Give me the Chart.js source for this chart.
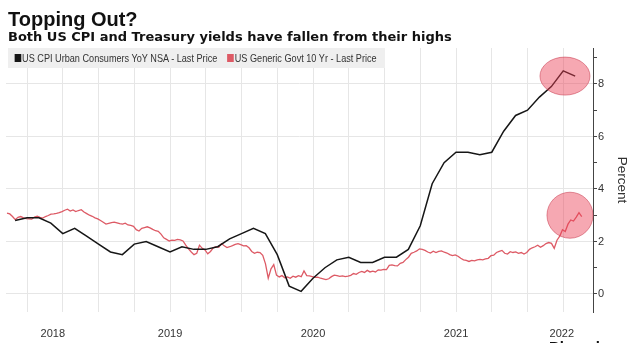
<!DOCTYPE html>
<html>
<head>
<meta charset="utf-8">
<script src="https://cdn.jsdelivr.net/npm/chart.js@4.4.1/dist/chart.umd.min.js"></script>
<style>
  html, body { margin: 0; padding: 0; background: #fff; }
  #wrap { position: relative; width: 634px; height: 343px; overflow: hidden; }
  #chart { position: absolute; left: 0; top: 0; }
  .title { position: absolute; left: 8px; top: 10px; font: bold 20px "Liberation Sans", Arial, sans-serif; line-height: 19px; color: #111; white-space: nowrap; }
  .subtitle { position: absolute; left: 8px; top: 30px; font: bold 13px "DejaVu Sans", Verdana, sans-serif; line-height: 13px; color: #111; white-space: nowrap; }
  .legend { position: absolute; left: 8px; top: 48px; width: 377px; height: 20px; background: #efefef; }
  .legend .inner { position: absolute; left: 0; top: 0; height: 20px; display: flex; align-items: center; transform: scaleX(0.83); transform-origin: 0 0; font: 11px "Liberation Sans", Arial, sans-serif; color: #333; white-space: nowrap; }
  .legend .sw { display: inline-block; width: 8px; height: 8px; margin: 0 1px 0 8px; }
  .legend .item { display: flex; align-items: center; margin-right: 4px; }
  .brand { position: absolute; left: 549px; top: 338px; font: bold 15px "Liberation Sans", Arial, sans-serif; color: #111; }
</style>
</head>
<body>
<div id="wrap">
  <canvas id="chart" width="634" height="343"></canvas>
  <div class="title">Topping Out?</div>
  <div class="subtitle">Both US CPI and Treasury yields have fallen from their highs</div>
  <div class="legend"><div class="inner" id="legend"></div></div>
  <div class="brand">Bloomberg</div>
</div>
<script>
// series names
const seriesNames = ['US CPI Urban Consumers YoY NSA - Last Price', 'US Generic Govt 10 Yr - Last Price'];

// CPI YoY, monthly, May 2018 .. Apr 2022 (plotted at month end)
const cpiStartYear = 2018;
const cpiStartMonth = 5;
const cpiValues = [
  2.8, 2.9, 2.9, 2.7, 2.3, 2.5, 2.2, 1.9,
  1.6, 1.5, 1.9, 2.0, 1.8, 1.6, 1.8, 1.7, 1.7, 1.8, 2.1, 2.3,
  2.5, 2.3, 1.5, 0.3, 0.1, 0.6, 1.0, 1.3, 1.4, 1.2, 1.2, 1.4,
  1.4, 1.7, 2.6, 4.2, 5.0, 5.4, 5.4, 5.3, 5.4, 6.2, 6.8, 7.0,
  7.5, 7.9, 8.5, 8.3
];

// 10Y yield, weekly from mid May 2018
const yieldStart = 2018.36;
const yieldStep = 1 / 52;
const yieldValues = [
  3.08, 3.05, 2.95, 2.83, 2.92, 2.95, 2.90, 2.87, 2.86, 2.85,
  2.93, 2.96, 2.92, 2.89, 2.95, 2.99, 3.04, 3.05, 3.07, 3.10,
  3.14, 3.19, 3.23, 3.16, 3.20, 3.14, 3.18, 3.21, 3.12, 3.06,
  3.00, 2.96, 2.90, 2.86, 2.80, 2.73, 2.66, 2.69, 2.72, 2.74,
  2.71, 2.68, 2.66, 2.70, 2.63, 2.61, 2.58, 2.45, 2.40, 2.50,
  2.53, 2.56, 2.52, 2.46, 2.41, 2.39, 2.28, 2.14, 2.08, 2.02,
  2.05, 2.04, 2.08, 2.06, 2.02, 1.86, 1.72, 1.60, 1.50, 1.55,
  1.86, 1.74, 1.68, 1.53, 1.62, 1.76, 1.80, 1.78, 1.92, 1.84,
  1.77, 1.80, 1.84, 1.89, 1.92, 1.88, 1.83, 1.84, 1.76, 1.62,
  1.55, 1.59, 1.58, 1.47, 1.15, 0.60, 0.96, 1.12, 0.72, 0.65,
  0.70, 0.62, 0.65, 0.60, 0.68, 0.64, 0.70, 0.66, 0.88, 0.70,
  0.69, 0.66, 0.63, 0.64, 0.60, 0.58, 0.55, 0.58, 0.66, 0.72,
  0.70, 0.67, 0.69, 0.66, 0.68, 0.71, 0.78, 0.75, 0.82, 0.86,
  0.82, 0.90, 0.84, 0.87, 0.84, 0.92, 0.91, 0.94, 0.93, 1.09,
  1.11, 1.08, 1.07, 1.17, 1.20, 1.31, 1.40, 1.55, 1.59, 1.64,
  1.72, 1.70, 1.66, 1.60, 1.56, 1.63, 1.58, 1.62, 1.64, 1.59,
  1.56, 1.50, 1.46, 1.49, 1.44, 1.36, 1.30, 1.28, 1.24, 1.28,
  1.26, 1.30, 1.32, 1.30, 1.34, 1.36, 1.46, 1.48, 1.58, 1.62,
  1.66, 1.55, 1.52, 1.61, 1.58, 1.60, 1.55, 1.58, 1.52, 1.58,
  1.70, 1.76, 1.80, 1.86, 1.78, 1.84, 1.92, 1.96, 1.93, 1.74,
  2.05, 2.20, 2.45, 2.38, 2.66, 2.82, 2.78, 2.93, 3.10, 2.95
];

// x axis: quarter gridlines and year labels (decimal years)
const quarterLines = [2018.5, 2018.75, 2019, 2019.25, 2019.5, 2019.75, 2020, 2020.25, 2020.5, 2020.75,
  2021, 2021.25, 2021.5, 2021.75, 2022, 2022.25];
const yearLabels = ['2018', '2019', '2020', '2021', '2022'];
const yearLabelAt = [2018.68, 2019.5, 2020.5, 2021.5, 2022.24];

// highlighted points [x, y]
const highlights = [[2022.262, 8.3], [2022.297, 3.0]];

const cpiData = cpiValues.map((v, i) => ({ x: cpiStartYear + (cpiStartMonth + i) / 12, y: v }));
const yieldData = yieldValues.map((v, i) => ({ x: yieldStart + i * yieldStep, y: v }));

const colors = ['#161616', '#dd5a65'];

// html legend
const legendEl = document.getElementById('legend');
seriesNames.forEach((name, i) => {
  const item = document.createElement('span');
  item.className = 'item';
  item.innerHTML = `<span class="sw" style="background:${colors[i]}"></span>${name}`;
  legendEl.appendChild(item);
});

const near = (a, b) => Math.abs(a - b) < 1e-6;
const isQuarter = v => quarterLines.some(q => near(q, v));

const highlightPlugin = {
  id: 'highlights',
  afterDatasetsDraw(chart) {
    const { ctx, scales } = chart;
    const radii = [[25, 19], [23, 23]];
    ctx.save();
    highlights.forEach(([hx, hy], i) => {
      const px = scales.x.getPixelForValue(hx);
      const py = scales.y.getPixelForValue(hy);
      ctx.beginPath();
      ctx.ellipse(px, py, radii[i][0], radii[i][1], 0, 0, Math.PI * 2);
      ctx.fillStyle = 'rgba(236, 62, 84, 0.45)';
      ctx.fill();
      ctx.strokeStyle = 'rgba(200, 60, 80, 0.55)';
      ctx.lineWidth = 1;
      ctx.stroke();
    });
    ctx.restore();
  }
};

const axisFamily = '"Liberation Sans", Arial, sans-serif';

new Chart(document.getElementById('chart'), {
  type: 'line',
  data: {
    datasets: [
      { label: seriesNames[0], data: cpiData, borderColor: colors[0], borderWidth: 1.5, pointRadius: 0, tension: 0 },
      { label: seriesNames[1], data: yieldData, borderColor: colors[1], borderWidth: 1.3, pointRadius: 0, tension: 0 }
    ]
  },
  options: {
    responsive: false,
    animation: false,
    layout: { padding: { left: 6, top: 48, right: 0, bottom: 0 } },
    plugins: { legend: { display: false }, tooltip: { enabled: false } },
    scales: {
      x: {
        type: 'linear',
        min: 2018.353,
        max: 2022.458,
        afterBuildTicks: axis => {
          const vals = quarterLines.concat(yearLabelAt.filter(v => !isQuarter(v)));
          axis.ticks = vals.sort((a, b) => a - b).map(v => ({ value: v }));
        },
        afterFit: s => { s.height = 31; },
        ticks: {
          autoSkip: false,
          maxRotation: 0,
          padding: 15,
          color: '#333',
          font: { family: axisFamily, size: 11 },
          callback: v => {
            const k = yearLabelAt.findIndex(p => near(p, v));
            return k >= 0 ? yearLabels[k] : '';
          }
        },
        grid: {
          drawTicks: false,
          color: ctx => (ctx.tick && isQuarter(ctx.tick.value)) ? '#e6e6e6' : 'transparent'
        },
        border: { display: false }
      },
      y: {
        position: 'right',
        min: -0.686,
        max: 9.37,
        afterFit: s => { s.width = 41; },
        ticks: {
          stepSize: 1,
          includeBounds: false,
          padding: 1,
          color: '#333',
          font: { family: axisFamily, size: 11 },
          callback: v => (v % 2 === 0 ? String(v) : '')
        },
        grid: {
          tickLength: 4,
          tickColor: '#444',
          color: ctx => (ctx.tick && ctx.tick.value % 2 === 0) ? '#e6e6e6' : 'transparent'
        },
        border: { display: true, color: '#444', width: 1 },
        title: {
          display: true,
          text: 'Percent',
          color: '#333',
          font: { family: axisFamily, size: 13.5 },
          padding: { top: 4, bottom: 0 }
        }
      }
    }
  },
  plugins: [highlightPlugin]
});
</script>
</body>
</html>
